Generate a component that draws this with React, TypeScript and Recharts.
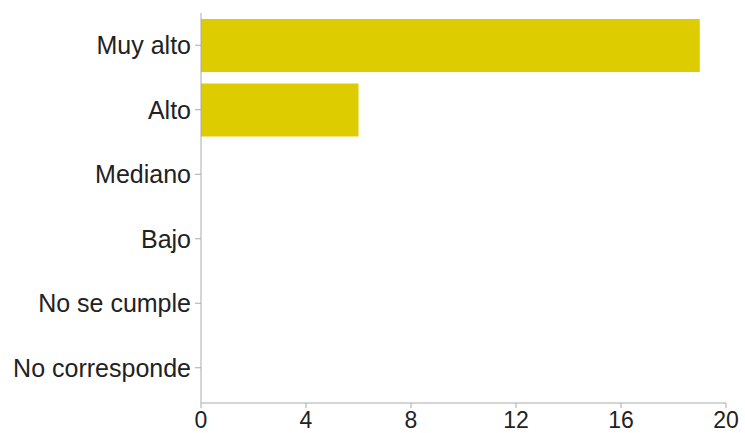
import React from "react";
import { BarChart, Bar, XAxis, YAxis } from "recharts";

const categories = ["Muy alto", "Alto", "Mediano", "Bajo", "No se cumple", "No corresponde"];
const counts = [19, 6, 0, 0, 0, 0];
const xTicks = [0, 4, 8, 12, 16, 20];

const data = categories.map((c, i) => ({ name: c, value: counts[i] }));

const FONT = "'Liberation Sans', Arial, Helvetica, sans-serif";
const AXIS = "#aaaaaa";

export default function App() {
  return (
    <div style={{ position: "absolute", left: 0, top: 0, width: 745, height: 433, background: "#fff" }}>
      <BarChart
        width={745}
        height={433}
        data={data}
        layout="vertical"
        margin={{ top: 13, right: 19, bottom: 0, left: 0 }}
        barCategoryGap={6}
      >
        <XAxis
          type="number"
          domain={[0, 20]}
          ticks={xTicks}
          height={30}
          stroke={AXIS}
          tickSize={5}
          tick={{ fill: "#222", fontSize: 23, fontFamily: FONT }}
          tickMargin={4}
        />
        <YAxis
          type="category"
          dataKey="name"
          width={201}
          stroke={AXIS}
          tickSize={6}
          tickMargin={4}
          padding={{ top: 0, bottom: 3 }}
          tick={{ fill: "#222", fontSize: 25, fontFamily: FONT }}
        />
        <Bar dataKey="value" fill="#DDCC00" isAnimationActive={false} />
      </BarChart>
    </div>
  );
}
